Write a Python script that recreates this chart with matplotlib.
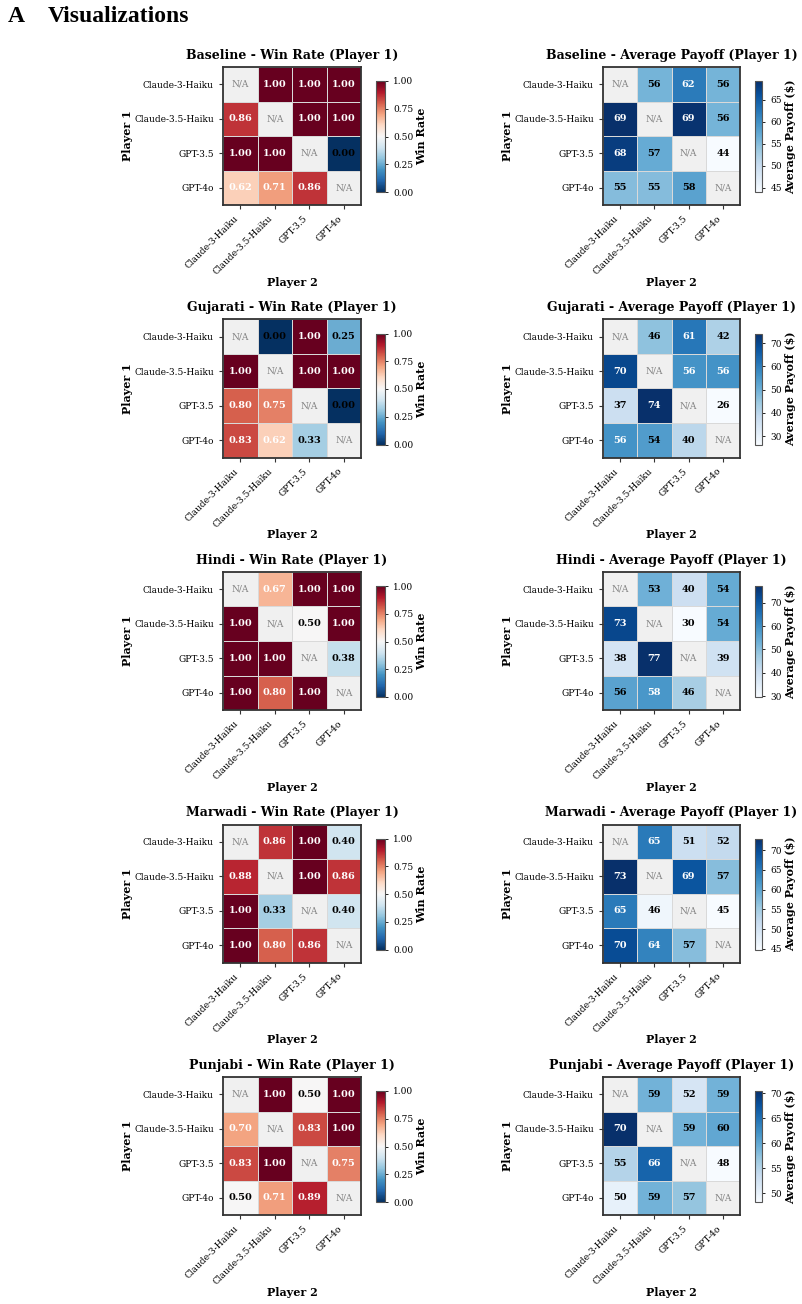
import numpy as np
import matplotlib
matplotlib.use("Agg")
import matplotlib.pyplot as plt

plt.rcParams['font.family'] = ['DejaVu Serif']

models = ["Claude-3-Haiku", "Claude-3.5-Haiku", "GPT-3.5", "GPT-4o"]
languages = ["Baseline", "Gujarati", "Hindi", "Marwadi", "Punjabi"]
nan = np.nan

# win rate of player 1 (rows) against player 2 (columns)
win_baseline = [[nan, 1.00, 1.00, 1.00],
                [0.86, nan, 1.00, 1.00],
                [1.00, 1.00, nan, 0.00],
                [0.62, 0.71, 0.86, nan]]
win_gujarati = [[nan, 0.00, 1.00, 0.25],
                [1.00, nan, 1.00, 1.00],
                [0.80, 0.75, nan, 0.00],
                [0.83, 0.62, 0.33, nan]]
win_hindi = [[nan, 0.67, 1.00, 1.00],
             [1.00, nan, 0.50, 1.00],
             [1.00, 1.00, nan, 0.38],
             [1.00, 0.80, 1.00, nan]]
win_marwadi = [[nan, 0.86, 1.00, 0.40],
               [0.88, nan, 1.00, 0.86],
               [1.00, 0.33, nan, 0.40],
               [1.00, 0.80, 0.86, nan]]
win_punjabi = [[nan, 1.00, 0.50, 1.00],
               [0.70, nan, 0.83, 1.00],
               [0.83, 1.00, nan, 0.75],
               [0.50, 0.71, 0.89, nan]]

# average payoff ($) of player 1
pay_baseline = [[nan, 56.0, 62.0, 56.0],
                [69.3, nan, 69.0, 56.0],
                [68.0, 57.0, nan, 44.0],
                [55.0, 55.0, 58.0, nan]]
pay_gujarati = [[nan, 46.0, 61.0, 42.0],
                [70.0, nan, 56.0, 56.0],
                [37.0, 74.1, nan, 26.4],
                [56.0, 54.0, 40.0, nan]]
pay_hindi = [[nan, 53.0, 40.0, 54.0],
             [73.0, nan, 29.6, 54.0],
             [38.0, 77.2, nan, 39.0],
             [56.0, 58.4, 46.0, nan]]
pay_marwadi = [[nan, 65.0, 51.0, 52.0],
               [73.0, nan, 69.0, 57.0],
               [65.0, 46.0, nan, 44.8],
               [70.0, 64.0, 57.0, nan]]
pay_punjabi = [[nan, 59.0, 52.0, 59.0],
               [70.5, nan, 59.0, 60.0],
               [55.0, 66.0, nan, 48.2],
               [50.0, 59.0, 57.0, nan]]

win_rates = [win_baseline, win_gujarati, win_hindi, win_marwadi, win_punjabi]
payoffs = [pay_baseline, pay_gujarati, pay_hindi, pay_marwadi, pay_punjabi]

W, H = 802, 1304
fig = plt.figure(figsize=(W / 100, H / 100), dpi=100)


def px_axes(x, y, w, h):
    return fig.add_axes([x / W, 1 - (y + h) / H, w / W, h / H])


def heatmap(ax, cax, data, cmap_name, vmin, vmax, fmt, title, cbar_label):
    m = np.array(data, dtype=float)
    cmap = plt.get_cmap(cmap_name).copy()
    cmap.set_bad('#f0f0f0')
    mesh = ax.pcolormesh(np.ma.masked_invalid(m), cmap=cmap, vmin=vmin, vmax=vmax,
                         edgecolors='#d9d9d9', linewidth=0.6)
    ax.set_xlim(0, len(models))
    ax.set_ylim(len(models), 0)
    ax.set_xticks(np.arange(len(models)) + 0.5)
    ax.set_yticks(np.arange(len(models)) + 0.5)
    ax.set_xticklabels(models, rotation=45, ha='right')
    ax.set_yticklabels(models)
    ax.tick_params(labelsize=6.5, length=3, width=0.8, color='#333333')
    for s in ax.spines.values():
        s.set_color('#333333')
        s.set_linewidth(1.3)
    for i in range(m.shape[0]):
        for j in range(m.shape[1]):
            v = m[i, j]
            if np.isnan(v):
                ax.text(j + 0.5, i + 0.5, "N/A", ha='center', va='center',
                        fontsize=6.5, color='gray')
            else:
                frac = (v - vmin) / (vmax - vmin)
                ax.text(j + 0.5, i + 0.5, fmt.format(v), ha='center', va='center',
                        fontsize=7, fontweight='bold',
                        color='white' if frac > 0.6 else 'black')
    ax.set_title(title, fontsize=9, fontweight='bold', pad=6)
    ax.set_xlabel("Player 2", fontsize=8, fontweight='bold', labelpad=0)
    ax.set_ylabel("Player 1", fontsize=8, fontweight='bold', labelpad=1)
    cb = fig.colorbar(mesh, cax=cax)
    cb.outline.set_edgecolor('#555555')
    cb.outline.set_linewidth(0.8)
    cb.ax.tick_params(labelsize=6.5, length=2.5, width=0.6)
    cb.set_label(cbar_label, fontsize=8, fontweight='bold', labelpad=2)
    return cb


for r, lang in enumerate(languages):
    top = 67 + r * 252.5
    ax1 = px_axes(223, top, 138, 138)
    cax1 = px_axes(376, top + 14, 9, 111)
    cb = heatmap(ax1, cax1, win_rates[r], 'RdBu_r', 0, 1, "{:.2f}",
                 f"{lang} - Win Rate (Player 1)", "Win Rate")
    cb.set_ticks([0, 0.25, 0.5, 0.75, 1.0])
    cb.ax.set_yticklabels(["0.00", "0.25", "0.50", "0.75", "1.00"])

    p = np.array(payoffs[r], dtype=float)
    ax2 = px_axes(603, top, 137, 138)
    cax2 = px_axes(755, top + 14, 7, 111)
    heatmap(ax2, cax2, payoffs[r], 'Blues', np.nanmin(p), np.nanmax(p), "{:.0f}",
            f"{lang} - Average Payoff (Player 1)", "Average Payoff ($)")

fig.text(8 / W, 1 - 17 / H, "A", fontsize=17, fontweight='bold',
         family='Liberation Serif', va='center', ha='left')
fig.text(48 / W, 1 - 17 / H, "Visualizations", fontsize=17, fontweight='bold',
         family='Liberation Serif', va='center', ha='left')

fig.savefig("out.png", dpi=100)
